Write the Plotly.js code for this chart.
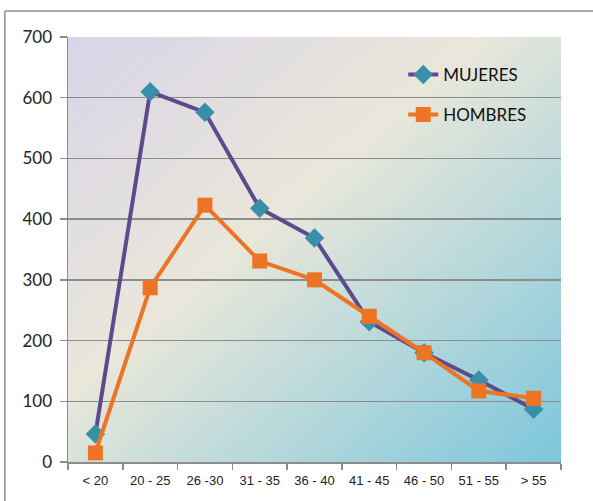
<!DOCTYPE html>
<html>
<head>
<meta charset="utf-8">
<script src="https://cdn.plot.ly/plotly-3.0.1.min.js"></script>
<style>html,body{margin:0;padding:0;background:#fff;}#chart{width:593px;height:501px;}</style>
</head>
<body>
<div id="chart"></div>
<script>
const categories = ["< 20", "20 - 25", "26 -30", "31 - 35", "36 - 40", "41 - 45", "46 - 50", "51 - 55", "> 55"];
const mujeres = [46, 610, 576, 418, 369, 231, 180, 135, 87];
const hombres = [15, 287, 423, 331, 300, 240, 180, 117, 105];
const yTicks = [0, 100, 200, 300, 400, 500, 600, 700];

const grad = '<svg xmlns="http://www.w3.org/2000/svg" width="493" height="425" preserveAspectRatio="none">' +
  '<defs><linearGradient id="g" x1="0" y1="0" x2="1" y2="1">' +
  '<stop offset="0" stop-color="#d9d4e8"/>' +
  '<stop offset="0.42" stop-color="#e9e7da"/>' +
  '<stop offset="1" stop-color="#7cc6dc"/>' +
  '</linearGradient></defs><rect width="493" height="425" fill="url(#g)"/></svg>';
const gradUri = 'data:image/svg+xml;base64,' + btoa(grad);

const traces = [
  {
    x: categories, y: mujeres, name: "MUJERES", type: "scatter", mode: "lines+markers",
    line: {color: "#5d4a8c", width: 4},
    marker: {symbol: "diamond", size: 15, color: "#3a8fa8"},
    legend: "legend"
  },
  {
    x: categories, y: hombres, name: "HOMBRES", type: "scatter", mode: "lines+markers",
    line: {color: "#ec7424", width: 4},
    marker: {symbol: "square", size: 15, color: "#ec7424"},
    legend: "legend2"
  }
];

const legendFont = {family: "Lato, Open Sans, sans-serif", size: 17, color: "#111"};

const layout = {
  width: 593, height: 501,
  margin: {l: 68, r: 32, t: 37, b: 39},
  paper_bgcolor: "#ffffff",
  plot_bgcolor: "rgba(0,0,0,0)",
  showlegend: true,
  images: [{
    source: gradUri, xref: "paper", yref: "paper", x: 0, y: 1, sizex: 1, sizey: 1,
    xanchor: "left", yanchor: "top", sizing: "stretch", layer: "below"
  }],
  xaxis: {
    type: "category", range: [-0.5, 8.5], tickson: "boundaries",
    ticks: "outside", ticklen: 6, tickcolor: "#8c8c8c", tickwidth: 1.5,
    showline: true, linecolor: "#8c8c8c", linewidth: 1.5,
    showgrid: false, zeroline: false,
    tickfont: {family: "Liberation Sans Narrow, Liberation Sans, Arial", size: 13, color: "#222"},
    ticklabelstandoff: 6,
    fixedrange: true
  },
  yaxis: {
    range: [0, 700], tickvals: yTicks, ticktext: yTicks.map(String),
    ticks: "outside", ticklen: 7, tickcolor: "#8c8c8c", tickwidth: 1.5,
    showline: true, linecolor: "#8c8c8c", linewidth: 1.5,
    showgrid: true, gridcolor: "#8c8c8c", gridwidth: 1.5, zeroline: false,
    tickfont: {family: "Lato, Open Sans, sans-serif", size: 17, color: "#222"},
    ticklabelstandoff: 4,
    fixedrange: true
  },
  legend: {
    x: 0.68, y: 0.9106, xanchor: "left", yanchor: "middle",
    bgcolor: "rgba(0,0,0,0)", font: legendFont
  },
  legend2: {
    x: 0.68, y: 0.8165, xanchor: "left", yanchor: "middle",
    bgcolor: "rgba(0,0,0,0)", font: legendFont
  },
  shapes: [
    {type: "line", xref: "paper", yref: "paper", x0: -0.128, x1: 1.1, y0: 1.0612, y1: 1.0612, line: {color: "#8c8c8c", width: 1.5}},
    {type: "line", xref: "paper", yref: "paper", x0: -0.128, x1: -0.128, y0: 1.0612, y1: -0.1, line: {color: "#8c8c8c", width: 1.5}}
  ]
};

Plotly.newPlot("chart", traces, layout, {displayModeBar: false, staticPlot: true});
</script>
</body>
</html>
